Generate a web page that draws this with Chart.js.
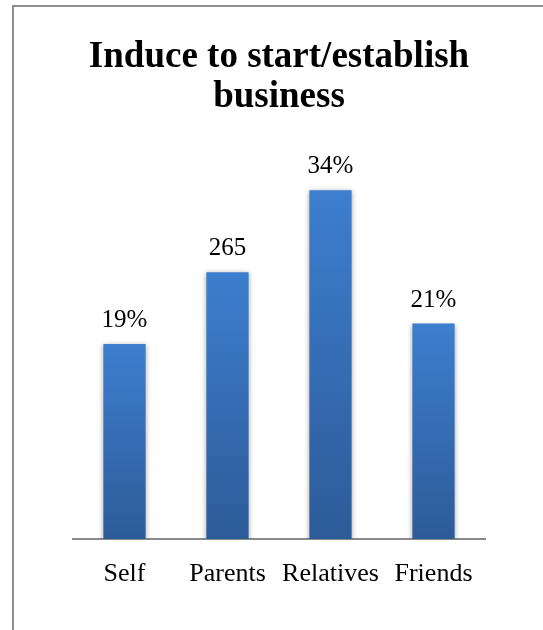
<!DOCTYPE html>
<html>
<head>
<meta charset="utf-8">
<script src="https://cdn.jsdelivr.net/npm/chart.js@4"></script>
<style>
  body { margin: 0; background: #fff; }
  canvas { display: block; }
</style>
</head>
<body>
<canvas id="induce-chart" width="543" height="630"></canvas>
<script>
const categories = ['Self', 'Parents', 'Relatives', 'Friends'];
const shares = [19, 26, 34, 21];
const valueLabels = ['19%', '265', '34%', '21%'];

const serif = '"Liberation Serif", "Times New Roman", serif';

// frame round the chart (only top and left edges show)
const framePlugin = {
    id: 'frame',
    beforeDraw(chart) {
        const ctx = chart.ctx;
        ctx.save();
        ctx.strokeStyle = '#8e8e8e';
        ctx.lineWidth = 2;
        ctx.beginPath();
        ctx.moveTo(13, 630);
        ctx.lineTo(13, 6);
        ctx.lineTo(543, 6);
        ctx.stroke();
        ctx.restore();
    }
};

// soft shadow under the bars
const shadowPlugin = {
    id: 'barShadow',
    beforeDatasetsDraw(chart) {
        const ctx = chart.ctx;
        ctx.save();
        ctx.shadowColor = 'rgba(0, 0, 0, 0.35)';
        ctx.shadowBlur = 5;
        ctx.shadowOffsetX = 0;
        ctx.shadowOffsetY = 1;
    },
    afterDatasetsDraw(chart) {
        chart.ctx.restore();
    }
};

// value text above each bar
const valueLabelPlugin = {
    id: 'valueLabels',
    afterDatasetsDraw(chart) {
        const ctx = chart.ctx;
        const meta = chart.getDatasetMeta(0);
        ctx.save();
        ctx.font = '25px ' + serif;
        ctx.fillStyle = '#000';
        ctx.textAlign = 'center';
        ctx.textBaseline = 'alphabetic';
        meta.data.forEach((bar, i) => {
            ctx.fillText(valueLabels[i], bar.x, bar.y - 17);
        });
        ctx.restore();
    }
};

function barGradient(context) {
    const chart = context.chart;
    if (!chart.chartArea) {
        return '#3670bb';
    }
    const y = chart.scales.y;
    const top = y.getPixelForValue(shares[context.dataIndex]);
    const base = y.getPixelForValue(0);
    const g = chart.ctx.createLinearGradient(0, top, 0, base);
    g.addColorStop(0, '#3d7ecf');
    g.addColorStop(1, '#2d5b98');
    return g;
}

const ctx = document.getElementById('induce-chart').getContext('2d');

new Chart(ctx, {
    type: 'bar',
    data: {
        labels: categories,
        datasets: [{
            data: shares,
            backgroundColor: barGradient,
            borderWidth: 0,
            barPercentage: 0.41,
            categoryPercentage: 1
        }]
    },
    options: {
        responsive: false,
        animation: false,
        layout: {
            padding: { left: 73, right: 58, top: 0, bottom: 0 }
        },
        plugins: {
            legend: { display: false },
            tooltip: { enabled: false },
            title: {
                display: true,
                text: ['Induce to start/establish', 'business'],
                color: '#000',
                font: { family: serif, size: 37, weight: 'bold', lineHeight: 1.08 },
                padding: { top: 37, bottom: 11.7 }
            }
        },
        scales: {
            x: {
                grid: { display: false, drawTicks: false },
                border: { display: true, color: '#8a8a8a', width: 2 },
                ticks: {
                    color: '#000',
                    font: { family: serif, size: 26 },
                    padding: 20
                },
                afterFit(scale) {
                    scale.height = 91;
                }
            },
            y: {
                display: false,
                min: 0,
                max: 40
            }
        }
    },
    plugins: [framePlugin, shadowPlugin, valueLabelPlugin]
});
</script>
</body>
</html>
